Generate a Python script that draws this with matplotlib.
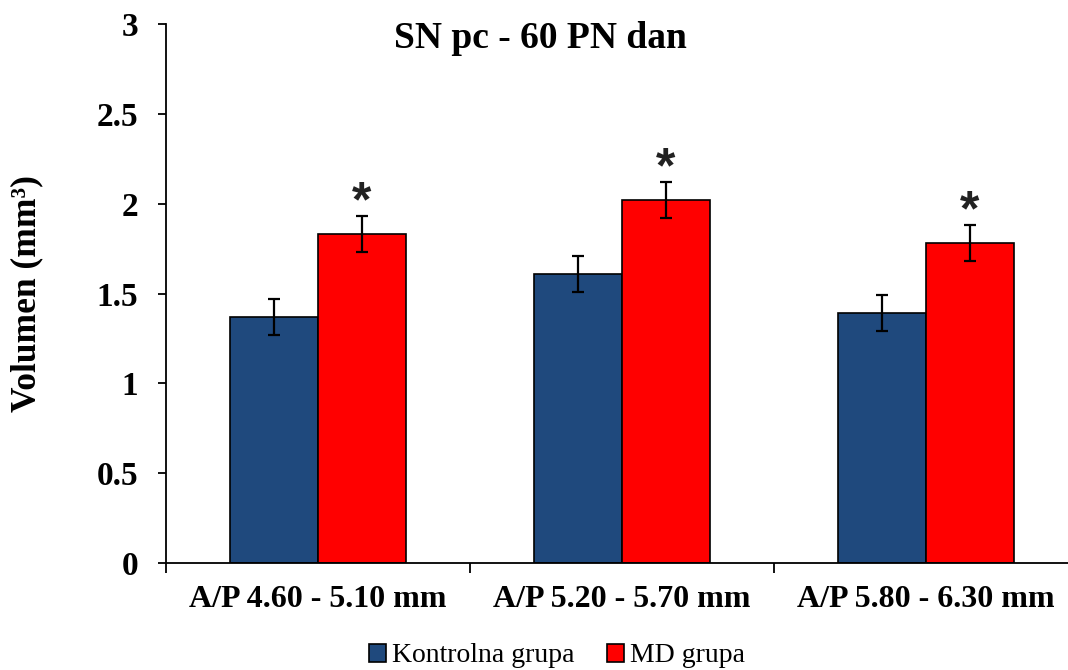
import numpy as np
import matplotlib
matplotlib.use('Agg')
import matplotlib.pyplot as plt

# data
categories = ['A/P 4.60 - 5.10 mm', 'A/P 5.20 - 5.70 mm', 'A/P 5.80 - 6.30 mm']
kontrolna = [1.37, 1.61, 1.39]
kontrolna_err = [0.1, 0.1, 0.1]
md = [1.83, 2.02, 1.78]
md_err = [0.1, 0.1, 0.1]
significant = [True, True, True]

plt.rcParams['font.family'] = ['Liberation Serif', 'DejaVu Serif']

fig = plt.figure(figsize=(10.68, 6.70), dpi=100)
# right edge of the plot area runs past the picture, like the original
ax = fig.add_axes([166 / 1068, 1 - 563 / 670, 912 / 1068, 539 / 670])

x = np.arange(len(categories))
w = 0.288
ax.bar(x - w / 2, kontrolna, w, color='#1F497D', edgecolor='black', linewidth=1.2,
       label='Kontrolna grupa', zorder=2)
ax.bar(x + w / 2, md, w, color='#FF0000', edgecolor='black', linewidth=1.2,
       label='MD grupa', zorder=2)
ax.errorbar(x - w / 2, kontrolna, yerr=kontrolna_err, fmt='none', ecolor='black',
            elinewidth=1.6, capsize=4.5, capthick=1.6, zorder=3)
ax.errorbar(x + w / 2, md, yerr=md_err, fmt='none', ecolor='black',
            elinewidth=1.6, capsize=4.5, capthick=1.6, zorder=3)

# significance stars
for i in range(len(categories)):
    if significant[i]:
        ax.text(x[i] + w / 2, md[i] + md_err[i] + 0.0, '*', ha='center', va='baseline',
                fontsize=36, fontweight='bold', family='Liberation Sans', color='#222222')

ax.set_xlim(-0.5, 2.5)
ax.set_ylim(0, 3)
ax.set_yticks([0, 0.5, 1, 1.5, 2, 2.5, 3])
ax.set_yticklabels(['0', '0.5', '1', '1.5', '2', '2.5', '3'], fontsize=24, fontweight='bold')
ax.set_xticks(x)
ax.set_xticklabels(categories, fontsize=23, fontweight='bold')
ax.set_xticks([-0.5, 0.5, 1.5], minor=True)
ax.tick_params(axis='x', which='major', length=0, pad=16)
ax.tick_params(axis='x', which='minor', length=7, width=1.3, direction='out')
ax.tick_params(axis='y', length=6, width=1.3, direction='out', pad=14)

for s in ['top', 'right']:
    ax.spines[s].set_visible(False)
for s in ['left', 'bottom']:
    ax.spines[s].set_linewidth(1.3)

ax.set_ylabel('Volumen (mm³)', fontsize=25.5, fontweight='bold')
ax.yaxis.set_label_coords((43 - 166) / 912, 0.5)

fig.text(540 / 1068, 1 - 48 / 670, 'SN pc - 60 PN dan', ha='center', va='baseline',
         fontsize=27, fontweight='bold')

fig.legend(loc='center', bbox_to_anchor=(557 / 1068, 1 - 656 / 670), ncol=2,
           frameon=False, fontsize=20, handlelength=0.6, handleheight=0.6,
           handletextpad=0.2, columnspacing=1.2, borderaxespad=0)

fig.savefig('out.png', dpi=100)
